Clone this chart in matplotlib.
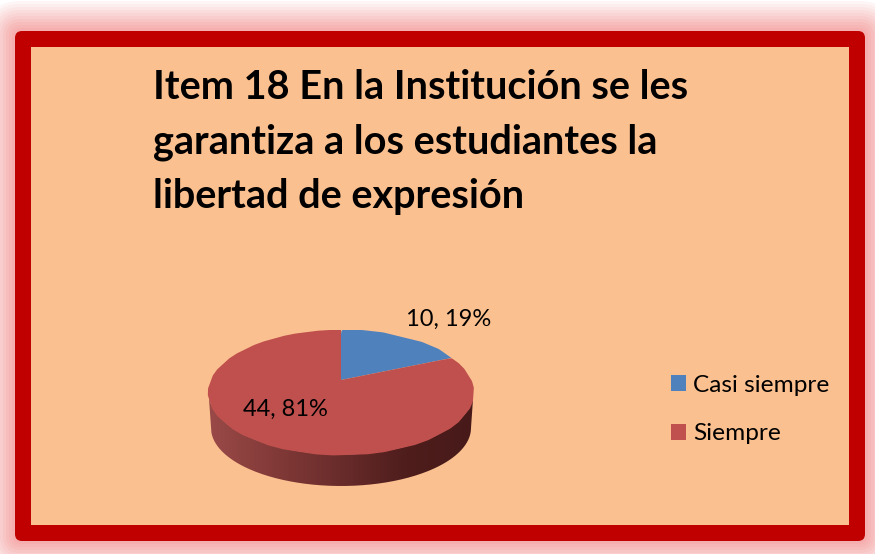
import numpy as np
import matplotlib
matplotlib.use("Agg")
import matplotlib.pyplot as plt
from matplotlib.patches import FancyBboxPatch, Rectangle, PathPatch
from matplotlib.path import Path
from matplotlib.transforms import Transform
from matplotlib.colors import LinearSegmentedColormap

categories = ["Casi siempre", "Siempre"]
values = [10, 44]
title_text = "Item 18 En la Institución se les\ngarantiza a los estudiantes la\nlibertad de expresión"

plt.rcParams["font.family"] = ["Lato", "DejaVu Sans"]
W, H = 875, 554
fig = plt.figure(figsize=(W / 100, H / 100), dpi=100, facecolor="white")
ax = fig.add_axes([0, 0, 1, 1])


class Perspective(Transform):
    """Tilted-disc projection of the unit pie onto pixel coordinates."""
    input_dims = output_dims = 2
    is_separable = False

    def __init__(self, cx, cy, a, b, k):
        super().__init__()
        self.cx, self.cy, self.a, self.b, self.k = cx, cy, a, b, k

    def transform_non_affine(self, xy):
        xy = np.asarray(xy, float)
        w = 1 + self.k * xy[:, 1]
        return np.column_stack([self.cx + self.a * xy[:, 0] / w,
                                self.cy - self.b * xy[:, 1] / w])

    def transform_path_non_affine(self, path):
        p = path.interpolated(12)
        return Path(self.transform_non_affine(p.vertices), p.codes)


wedges, _ = ax.pie(values, colors=["#4F81BD", "#C0504D"], startangle=90,
                   counterclock=False, radius=1, frame=False)
ax.set_aspect("auto")
ax.set_xlim(0, W)
ax.set_ylim(H, 0)
ax.axis("off")
proj = Perspective(341, 380, 129.8, 60, 0.2)
for w in wedges:
    w.set_transform(proj + ax.transData)
    w.set_zorder(6)
    w.set_linewidth(0)

# soft red glow around the frame
pink = np.array([0.96, 0.66, 0.66])
white = np.array([1.0, 1.0, 1.0])
for d in range(33, 0, -3):
    t = min(1, (d / 33) ** 1.1)
    ax.add_patch(FancyBboxPatch((15 - d, 31 - d), 850 + 2 * d, 510 + 2 * d,
                                boxstyle=f"round,pad=0,rounding_size={6 + d}",
                                fc=pink * (1 - t) + white * t, ec="none", zorder=1))
# frame and panel
ax.add_patch(FancyBboxPatch((15, 31), 850, 510, boxstyle="round,pad=0,rounding_size=7",
                            fc="#C00000", ec="none", zorder=2))
ax.add_patch(Rectangle((31, 47), 818, 478, fc="#FBC08F", ec="none", zorder=3))

# side of the disc
t = np.linspace(0, np.pi, 200)
top_x = 341 + 132.5 * np.cos(t)
top_y = 392 + 62.5 * np.sin(t)
bot_x = 341 + 130 * np.cos(t[::-1])
bot_y = 428 + 58 * np.sin(t[::-1])
side = Path(np.column_stack([np.r_[top_x, bot_x], np.r_[top_y, bot_y]]))
cmap = LinearSegmentedColormap.from_list(
    "side", ["#9A4A48", "#823A38", "#692C2B", "#4E1D1C", "#471A19"])
im = ax.imshow(np.linspace(0, 1, 256)[None, :], cmap=cmap, extent=(208, 473, 490, 385),
               aspect="auto", zorder=5)
im.set_clip_path(PathPatch(side, transform=ax.transData))
ax.set_xlim(0, W)
ax.set_ylim(H, 0)

# title
ax.text(153, 69, title_text, fontsize=28.5, fontweight="bold", color="black",
        ha="left", va="top", linespacing=1.58, zorder=8)

# data labels
total = sum(values)
labels = [f"{v}, {round(100 * v / total)}%" for v in values]
ax.text(449, 319, labels[0], fontsize=17, ha="center", va="center", color="black", zorder=8)
ax.text(285, 409, labels[1], fontsize=17, ha="center", va="center", color="black", zorder=8)

# legend
handles = [Rectangle((0, 0), 1, 1, fc=w.get_facecolor(), ec="none") for w in wedges]
leg = ax.legend(handles, categories, loc="upper left", bbox_to_anchor=(671 / W, 1 - 375 / H),
                bbox_transform=ax.transAxes, frameon=False, fontsize=17.6,
                handlelength=0.62, handleheight=0.62, handletextpad=0.28,
                labelspacing=1.12, borderpad=0, borderaxespad=0)
leg.set_zorder(8)

fig.savefig("out.png", dpi=100, facecolor="white")
